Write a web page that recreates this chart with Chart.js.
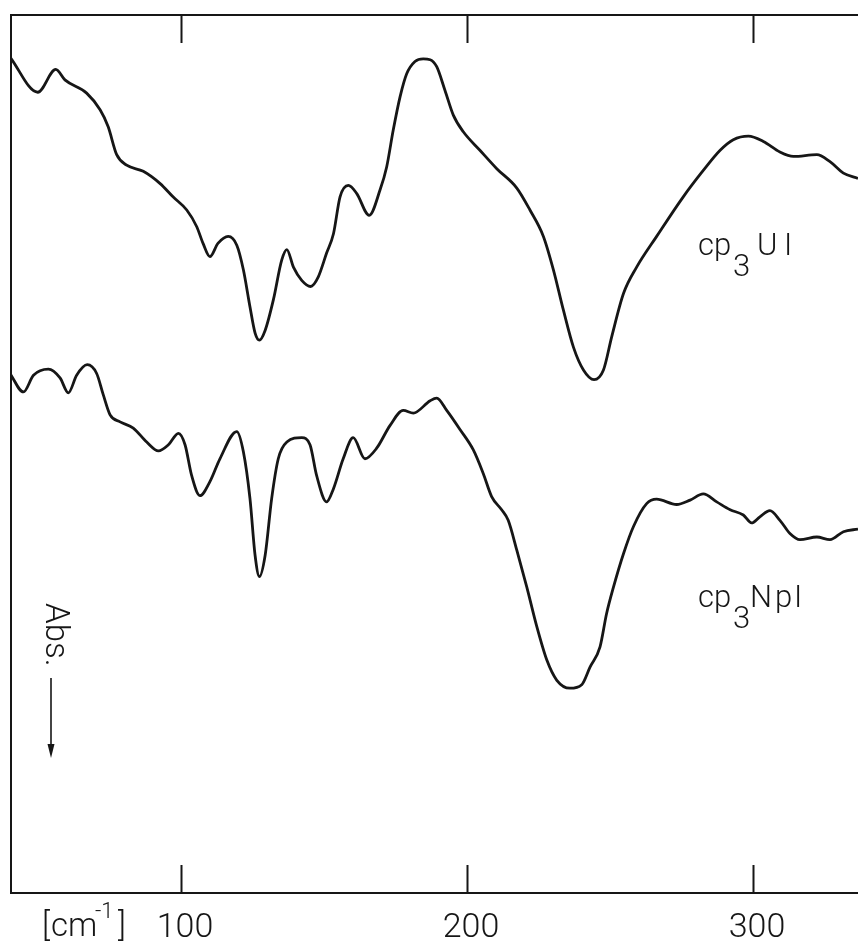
<!DOCTYPE html>
<html>
<head>
<meta charset="utf-8">
<script src="https://cdn.jsdelivr.net/npm/chart.js@4/dist/chart.umd.min.js"></script>
<style>
  html, body { margin: 0; padding: 0; background: #fff; }
  canvas { display: block; }
</style>
</head>
<body>
<canvas id="spectra" width="858" height="942"></canvas>
<script>
// Far-IR absorption spectra (wavenumber in cm^-1, absorbance in arbitrary units, increasing downward)
const uiWavenumber = [40.2, 49.9, 56.2, 59.4, 67.0, 71.7, 74.5, 77.5, 81.0, 86.8, 92.7, 97.2, 102.0, 105.5, 107.7, 110.1,
  112.9, 116.5, 119.5, 121.8, 124.1, 125.9, 127.4, 129.4, 132.3, 135.2, 137.0, 139.3, 142.2, 145.3, 148.0, 150.9,
  153.3, 155.6, 158.5, 161.4, 165.8, 169.6, 171.9, 174.2, 176.6, 178.9, 181.8, 184.7, 187.1, 189.4, 192.3, 195.2,
  198.7, 204.5, 210.4, 217.4, 222.0, 226.7, 230.2, 233.7, 237.2, 240.7, 244.4, 247.7, 250.6, 254.7, 259.3, 266.3,
  275.6, 282.6, 288.5, 293.1, 298.4, 303.6, 309.4, 314.1, 322.3, 326.9, 331.6, 336.7];
const uiAbs = [4.9, 8.9, 6.3, 7.5, 9.0, 10.9, 12.8, 16.0, 17.2, 17.9, 19.3, 20.8, 22.3, 24.2, 26.1, 27.6,
  26.1, 25.3, 26.3, 29.1, 33.3, 36.3, 37.1, 36.0, 32.5, 28.0, 26.8, 28.8, 30.3, 31.0, 29.9, 27.2,
  25.0, 20.8, 19.5, 20.4, 22.9, 20.0, 17.4, 13.2, 9.4, 6.8, 5.4, 5.1, 5.2, 6.0, 8.7, 11.5,
  13.4, 15.5, 17.6, 19.8, 22.3, 25.3, 29.1, 33.7, 37.9, 40.5, 41.6, 40.5, 36.7, 31.8, 28.8, 25.3,
  20.8, 17.8, 15.5, 14.3, 13.9, 14.5, 15.7, 16.2, 16.0, 16.8, 18.1, 18.7];

const npWavenumber = [40.2, 44.9, 48.4, 53.6, 57.7, 60.6, 63.5, 67.2, 70.5, 72.8, 75.2, 78.7, 83.3, 88.0, 92.1, 95.6,
  99.1, 101.4, 103.7, 106.6, 110.1, 113.6, 119.5, 121.8, 124.1, 125.9, 127.4, 129.4, 131.7, 134.0, 137.0, 142.2,
  145.1, 147.4, 150.9, 153.3, 156.7, 160.2, 164.3, 168.4, 173.1, 177.7, 181.2, 187.1, 189.4, 192.9, 197.6, 202.2,
  205.7, 208.6, 212.1, 214.4, 217.4, 220.9, 224.4, 227.9, 231.4, 236.0, 240.1, 243.0, 246.5, 248.8, 251.2, 254.7,
  258.2, 262.8, 266.3, 273.3, 278.0, 282.6, 287.3, 292.0, 296.6, 299.5, 302.4, 305.9, 309.4, 312.9, 316.4, 322.3,
  326.9, 331.6, 336.7];
const npAbs = [40.9, 43.0, 41.1, 40.4, 41.4, 43.1, 41.1, 39.9, 40.9, 43.3, 45.6, 46.4, 47.1, 48.7, 49.7, 49.0,
  47.7, 49.0, 52.5, 54.8, 53.2, 50.6, 47.5, 49.8, 55.1, 61.6, 64.0, 61.6, 55.1, 50.6, 48.7, 48.2,
  49.0, 52.5, 55.5, 54.0, 50.6, 48.2, 50.6, 49.4, 46.8, 45.1, 45.4, 44.0, 43.7, 45.1, 47.3, 49.6,
  52.3, 54.9, 56.4, 57.6, 61.0, 65.2, 69.7, 73.5, 75.8, 76.7, 76.3, 74.3, 72.0, 68.2, 65.2, 61.4,
  58.3, 55.7, 55.2, 55.8, 55.3, 54.6, 55.5, 56.4, 57.0, 57.9, 57.2, 56.5, 57.6, 59.1, 59.8, 59.5,
  59.8, 58.9, 58.6];

const tickValues = [100, 200, 300];
const tickLabels = ['100', '200', '300'];

const INK = '#161616';
const FONT = '"Roboto", "Liberation Sans", sans-serif';

function toPoints(xs, ys) {
  return xs.map((v, i) => ({ x: v, y: ys[i] }));
}

// Compound labels: pieces with x-offset and baseline shift (the "3" is set lower)
const seriesLabels = [
  { x: 280.8, y: 27.4, pieces: [['cp', 0, 0], ['3', 35, 21], ['U', 59, 0], ['I', 86, 0]] },
  { x: 280.8, y: 67.5, pieces: [['cp', 0, 0], ['3', 35, 21], ['N', 52, 0], ['p', 77, 0], ['I', 96, 0]] }
];

const decorations = {
  id: 'decorations',
  afterDraw(chart) {
    const { ctx, chartArea: a } = chart;
    const xs = chart.scales.x, ys = chart.scales.y;
    ctx.save();

    // open frame: top, left and bottom edges
    ctx.strokeStyle = INK;
    ctx.lineWidth = 2;
    ctx.beginPath();
    ctx.moveTo(a.right, a.top + 1);
    ctx.lineTo(a.left + 1, a.top + 1);
    ctx.lineTo(a.left + 1, a.bottom);
    ctx.lineTo(a.right, a.bottom);
    ctx.stroke();

    // inward tick marks on top and bottom edges
    ctx.beginPath();
    tickValues.forEach(v => {
      const px = Math.round(xs.getPixelForValue(v)) + 0.5;
      ctx.moveTo(px, a.top);
      ctx.lineTo(px, a.top + 29);
      ctx.moveTo(px, a.bottom);
      ctx.lineTo(px, a.bottom - 28);
    });
    ctx.stroke();

    // tick labels
    ctx.fillStyle = INK;
    ctx.font = `300 34px ${FONT}`;
    ctx.textAlign = 'center';
    ctx.textBaseline = 'alphabetic';
    tickLabels.forEach((t, i) => {
      ctx.fillText(t, xs.getPixelForValue(tickValues[i]) + 4, a.bottom + 44);
    });

    // unit label [cm^-1]
    ctx.textAlign = 'left';
    ctx.font = `300 33px ${FONT}`;
    ctx.fillText('[', 42, a.bottom + 43);
    ctx.fillText('cm', 51, a.bottom + 43);
    ctx.fillText(']', 118, a.bottom + 43);
    ctx.font = `300 22px ${FONT}`;
    ctx.fillText('-1', 95, a.bottom + 25);

    // series labels
    ctx.font = `300 31px ${FONT}`;
    seriesLabels.forEach(lab => {
      const bx = xs.getPixelForValue(lab.x);
      const by = ys.getPixelForValue(lab.y);
      lab.pieces.forEach(([t, dx, dy]) => ctx.fillText(t, bx + dx, by + dy));
    });

    // vertical "Abs." with downward arrow
    ctx.save();
    ctx.translate(46, 603);
    ctx.rotate(Math.PI / 2);
    ctx.font = `300 33px ${FONT}`;
    ctx.textAlign = 'left';
    ctx.fillText('Abs.', 0, 0);
    ctx.restore();

    ctx.lineWidth = 1.6;
    ctx.beginPath();
    ctx.moveTo(51, 678);
    ctx.lineTo(51, 748);
    ctx.stroke();
    ctx.beginPath();
    ctx.moveTo(47.5, 744);
    ctx.lineTo(54.5, 744);
    ctx.lineTo(51, 758);
    ctx.closePath();
    ctx.fill();

    ctx.restore();
  }
};

const lineStyle = {
  borderColor: INK,
  backgroundColor: INK,
  borderWidth: 2.8,
  pointRadius: 0,
  fill: false,
  cubicInterpolationMode: 'monotone'
};

new Chart(document.getElementById('spectra'), {
  type: 'line',
  data: {
    datasets: [
      Object.assign({ label: 'cp3UI', data: toPoints(uiWavenumber, uiAbs) }, lineStyle),
      Object.assign({ label: 'cp3NpI', data: toPoints(npWavenumber, npAbs) }, lineStyle)
    ]
  },
  options: {
    responsive: false,
    animation: false,
    devicePixelRatio: 1,
    layout: { padding: { left: 10, top: 14, right: 0, bottom: 49 } },
    plugins: {
      colors: { enabled: false },
      legend: { display: false },
      tooltip: { enabled: false }
    },
    scales: {
      x: { type: 'linear', min: 40.2, max: 336.7, display: false },
      y: { type: 'linear', min: 0, max: 100, reverse: true, display: false }
    }
  },
  plugins: [decorations]
});
</script>
</body>
</html>
